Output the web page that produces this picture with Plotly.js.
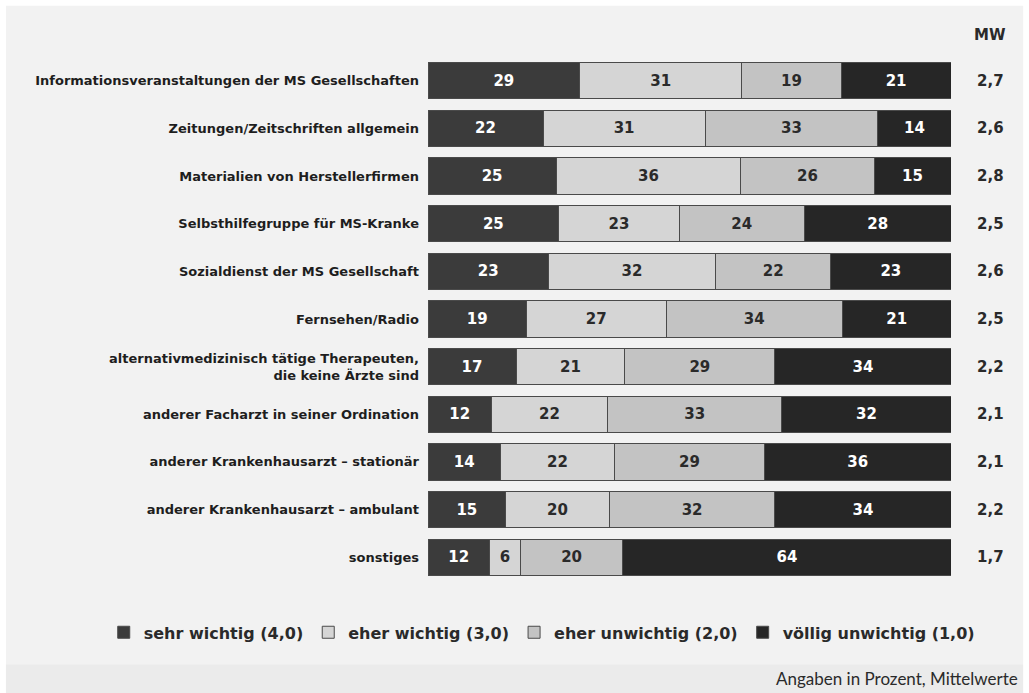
<!DOCTYPE html>
<html>
<head>
<meta charset="utf-8">
<script src="https://cdn.plot.ly/plotly-3.0.1.min.js"></script>
<style>
  html, body { margin: 0; padding: 0; background: #ffffff; }
  #chart { width: 1029px; height: 693px; }
</style>
</head>
<body>
<div id="chart"></div>
<script>
// Informationsquellen: Anteile je Antwortkategorie (Prozent) und Mittelwert (MW)
const categories = [
  'Informationsveranstaltungen der MS Gesellschaften',
  'Zeitungen/Zeitschriften allgemein',
  'Materialien von Herstellerfirmen',
  'Selbsthilfegruppe für MS-Kranke',
  'Sozialdienst der MS Gesellschaft',
  'Fernsehen/Radio',
  'alternativmedizinisch tätige Therapeuten,<br>die keine Ärzte sind',
  'anderer Facharzt in seiner Ordination',
  'anderer Krankenhausarzt – stationär',
  'anderer Krankenhausarzt – ambulant',
  'sonstiges'
];

const sehrWichtig      = [29, 22, 25, 25, 23, 19, 17, 12, 14, 15, 12];
const eherWichtig      = [31, 31, 36, 23, 32, 27, 21, 22, 22, 20, 6];
const eherUnwichtig    = [19, 33, 26, 24, 22, 34, 29, 33, 29, 32, 20];
const voelligUnwichtig = [21, 14, 15, 28, 23, 21, 34, 32, 36, 34, 64];

const mittelwerte = ['2,7', '2,6', '2,8', '2,5', '2,6', '2,5', '2,2', '2,1', '2,1', '2,2', '1,7'];

const seriesNames = ['sehr wichtig (4,0)', 'eher wichtig (3,0)', 'eher unwichtig (2,0)', 'völlig unwichtig (1,0)'];

const FONT = 'DejaVu Sans, Verdana, sans-serif';

function barTrace(values, name, fill, textColor) {
  return {
    type: 'bar',
    orientation: 'h',
    y: categories,
    x: values,
    name: name,
    text: values.map(String),
    textposition: 'inside',
    insidetextanchor: 'middle',
    constraintext: 'none',
    textangle: 0,
    textfont: { family: FONT, size: 15, color: textColor, weight: 'bold' },
    marker: { color: fill, line: { color: '#4a4a4a', width: 1 } },
    hoverinfo: 'skip'
  };
}

const traces = [
  barTrace(sehrWichtig, seriesNames[0], '#3b3b3b', '#ffffff'),
  barTrace(eherWichtig, seriesNames[1], '#d5d5d5', '#2a2a2a'),
  barTrace(eherUnwichtig, seriesNames[2], '#c3c3c3', '#2a2a2a'),
  barTrace(voelligUnwichtig, seriesNames[3], '#262626', '#ffffff')
];

// Mittelwert-Spalte rechts neben den Balken
const annotations = categories.map((c, i) => ({
  xref: 'paper', yref: 'y',
  x: 1.075, y: c,
  text: mittelwerte[i],
  showarrow: false,
  xanchor: 'center', yanchor: 'middle',
  font: { family: FONT, size: 15, color: '#2a2a2a', weight: 'bold' }
}));

annotations.push({
  xref: 'paper', yref: 'paper',
  x: 1.075, y: 1.042,
  text: 'MW', showarrow: false,
  xanchor: 'center', yanchor: 'middle',
  font: { family: FONT, size: 15, color: '#2a2a2a', weight: 'bold' }
});

annotations.push({
  xref: 'paper', yref: 'paper',
  x: 1.132, y: -0.186,
  text: 'Angaben in Prozent, Mittelwerte', showarrow: false,
  xanchor: 'right', yanchor: 'middle',
  font: { family: 'Lato, Open Sans, sans-serif', size: 17, color: '#2a2a2a' }
});

const layout = {
  width: 1029,
  height: 693,
  margin: { l: 428, r: 78, t: 57, b: 112, autoexpand: false },
  paper_bgcolor: '#ffffff',
  plot_bgcolor: 'rgba(0,0,0,0)',
  barmode: 'stack',
  barnorm: 'percent',
  bargap: 0.24,
  showlegend: true,
  legend: {
    orientation: 'h',
    traceorder: 'normal',
    x: -0.62, xanchor: 'left',
    y: -0.098, yanchor: 'middle',
    itemwidth: 30,
    font: { family: FONT, size: 16, color: '#2a2a2a', weight: 'bold' },
    bgcolor: 'rgba(0,0,0,0)',
    itemclick: false,
    itemdoubleclick: false
  },
  xaxis: {
    range: [0, 100],
    showgrid: false, zeroline: false, showticklabels: false, showline: false,
    fixedrange: true
  },
  yaxis: {
    type: 'category',
    autorange: 'reversed',
    showgrid: false, zeroline: false, showline: false,
    ticks: '',
    ticklabelstandoff: 8,
    tickfont: { family: FONT, size: 13, color: '#1e1e1e', weight: 'bold' },
    fixedrange: true
  },
  shapes: [
    { type: 'rect', xref: 'paper', yref: 'paper', layer: 'below',
      x0: -0.807, x1: 1.138, y0: -0.159, y1: 1.098,
      fillcolor: '#f2f2f2', line: { width: 0 } },
    { type: 'rect', xref: 'paper', yref: 'paper', layer: 'below',
      x0: -0.807, x1: 1.138, y0: -0.215, y1: -0.159,
      fillcolor: '#ebebeb', line: { width: 0 } }
  ],
  annotations: annotations
};

Plotly.newPlot('chart', traces, layout, { displayModeBar: false, staticPlot: true });
</script>
</body>
</html>
